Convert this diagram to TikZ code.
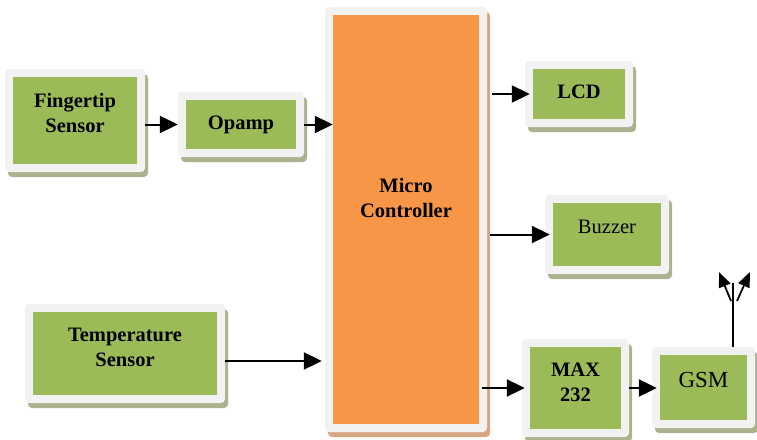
\documentclass[tikz,border=0pt]{standalone}
\usepackage{fontspec}
\setmainfont{Liberation Serif}
\usetikzlibrary{arrows.meta,shadows}
\definecolor{blockgreen}{RGB}{155,187,89}
\definecolor{blockorange}{RGB}{247,150,70}
\definecolor{framegray}{RGB}{242,242,242}
\definecolor{shadegreen}{RGB}{170,178,142}
\definecolor{shadeorange}{RGB}{214,166,130}
\tikzset{
  block/.style 2 args={% fill colour, shadow colour
    fill=framegray, rounded corners=4pt, inner sep=0pt,
    drop shadow={fill=#2, opacity=1, shadow xshift=3pt, shadow yshift=-5pt},
    path picture={\fill[#1, sharp corners]
      ([shift={(8pt,8pt)}]path picture bounding box.south west) rectangle
      ([shift={(-8pt,-8pt)}]path picture bounding box.north east);}},
  greenblock/.style={block={blockgreen}{shadegreen}},
  orangeblock/.style={block={blockorange}{shadeorange}},
  txt/.style={font=\fontsize{20.5}{25}\selectfont\bfseries, align=center},
  plain/.style={font=\fontsize{20.5}{25}\selectfont, align=center},
  arrow/.style={-{Triangle[length=18pt,width=17pt]}, line width=2pt},
  antarrow/.style={-{Triangle[length=15pt,width=12pt]}, line width=1.8pt}
}
\begin{document}
\begin{tikzpicture}[x=1pt,y=-1pt]
\useasboundingbox (0,0) rectangle (757,439);

% Sensors and amplifier
\node[greenblock, minimum width=140pt, minimum height=103pt,
  label={[txt,yshift=8pt]center:{Fingertip\\Sensor}}] (finger) at (75,120.5) {};
\node[greenblock, minimum width=126pt, minimum height=65pt,
  label={[txt]center:Opamp}] (opamp) at (241,124.5) {};
\node[greenblock, minimum width=200pt, minimum height=99pt,
  label={[txt,yshift=6pt]center:{Temperature\\Sensor}}] (temp) at (125,353.5) {};

% Micro controller
\node[orangeblock, minimum width=162pt, minimum height=425pt,
  label={[txt,yshift=22pt]center:{Micro\\Controller}}] (mc) at (406,219.5) {};

% Outputs
\node[greenblock, minimum width=108pt, minimum height=66pt,
  label={[txt,yshift=2pt]center:LCD}] (lcd) at (579,94) {};
\node[greenblock, minimum width=124pt, minimum height=79pt,
  label={[plain,yshift=8pt]center:Buzzer}] (buzzer) at (607,234.5) {};
\node[greenblock, minimum width=107pt, minimum height=98pt,
  label={[txt,yshift=6pt]center:{MAX\\232}}] (max) at (575.5,388) {};
\node[greenblock, minimum width=103pt, minimum height=81pt,
  label={[plain,font=\fontsize{23}{27}\selectfont,yshift=8pt]center:GSM}] (gsm) at (703.5,387.5) {};

% Inputs to controller
\draw[arrow] (finger.east |- opamp) -- (opamp);
\draw[arrow, shorten >=-8pt] (opamp) -- (opamp -| mc.west);
\coordinate (tempout) at ([yshift=-7.5pt]temp.east);
\draw[arrow, shorten >=3pt] (tempout) -- (tempout -| mc.west);

% Controller to outputs
\draw[arrow, shorten <=5pt, shorten >=-5pt] (mc.east |- lcd) -- (lcd);
\draw[arrow, shorten <=3pt, shorten >=-5pt] (mc.east |- buzzer) -- (buzzer);
\draw[arrow, shorten <=-5pt, shorten >=-3pt] (mc.east |- max) -- (max);
\draw[arrow, shorten >=-5pt] (max) -- (max -| gsm.west);

% Antenna
\coordinate (anttop) at (733,283);
\coordinate (antbase) at (734,301);
\coordinate (antL) at (719,272);
\coordinate (antR) at (750,272);
\draw[line width=1.8pt] (gsm.north -| anttop) -- (anttop);
\draw[antarrow] ([xshift=-3pt]antbase) -- (antL);
\draw[antarrow] ([xshift=3pt]antbase) -- (antR);

\end{tikzpicture}
\end{document}
